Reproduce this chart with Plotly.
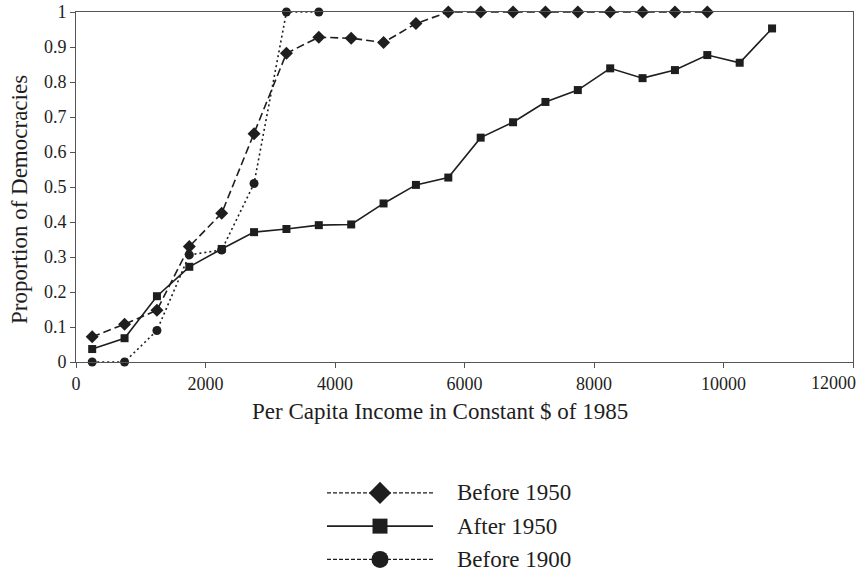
import plotly.graph_objects as go

# ---- data ----
income = [250, 750, 1250, 1750, 2250, 2750, 3250, 3750, 4250, 4750, 5250, 5750,
          6250, 6750, 7250, 7750, 8250, 8750, 9250, 9750, 10250, 10750]

before1950 = [0.072, 0.108, 0.148, 0.33, 0.425, 0.652, 0.882, 0.928, 0.925, 0.913,
              0.967, 1.0, 1.0, 1.0, 1.0, 1.0, 1.0, 1.0, 1.0, 1.0]
after1950 = [0.037, 0.068, 0.188, 0.272, 0.323, 0.371, 0.38, 0.391, 0.393, 0.453,
             0.506, 0.527, 0.641, 0.685, 0.743, 0.777, 0.839, 0.811, 0.834, 0.877,
             0.855, 0.953]
before1900 = [0.0, 0.0, 0.09, 0.306, 0.32, 0.51, 1.0, 1.0]

x_ticks = [0, 2000, 4000, 6000, 8000, 10000, 12000]
x_ticktext = ["0", "2000", "4000", "6000", "8000", "10000", "12000"]
y_ticks = [0, 0.1, 0.2, 0.3, 0.4, 0.5, 0.6, 0.7, 0.8, 0.9, 1]
y_ticktext = ["0", "0.1", "0.2", "0.3", "0.4", "0.5", "0.6", "0.7", "0.8", "0.9", "1"]

legend_labels = ["Before 1950", "After 1950", "Before 1900"]
x_title = "Per Capita Income in Constant $ of 1985"
y_title = "Proportion of Democracies"

FONT = "Liberation Serif"
INK = "#1e1e1e"

W, H = 862, 576
L, R, T, B = 76, 853, 12, 362

fig = go.Figure()

styles = [
    dict(dash="8px,4px", symbol="diamond", size=10, lsize=17),
    dict(dash="solid", symbol="square", size=8, lsize=15),
    dict(dash="2px,3px", symbol="circle", size=9, lsize=17),
]
series = [before1950, after1950, before1900]

for vals, st in zip(series, styles):
    fig.add_trace(go.Scatter(
        x=income[:len(vals)], y=vals, mode="lines+markers",
        line=dict(color=INK, width=1.6, dash=st["dash"]),
        marker=dict(symbol=st["symbol"], size=st["size"], color=INK,
                    line=dict(width=0)),
        cliponaxis=False, showlegend=False, xaxis="x", yaxis="y"))

# custom legend drawn in its own small axes
for i, (lab, st) in enumerate(zip(legend_labels, styles)):
    row = i + 1
    solid = st["dash"] == "solid"
    fig.add_trace(go.Scatter(
        x=[0, 1], y=[row, row], mode="lines",
        line=dict(color=INK, width=1.6 if solid else 1.2,
                  dash="solid" if solid else "4px,2px"),
        cliponaxis=False, showlegend=False, xaxis="x2", yaxis="y2",
        hoverinfo="skip"))
    fig.add_trace(go.Scatter(
        x=[0.5], y=[row], mode="markers",
        marker=dict(symbol=st["symbol"], size=st["lsize"], color=INK,
                    line=dict(width=0)),
        cliponaxis=False, showlegend=False, xaxis="x2", yaxis="y2",
        hoverinfo="skip"))
    fig.add_annotation(text=lab, x=455 / W, xref="paper", xanchor="left",
                       y=row, yref="y2", yanchor="middle", showarrow=False,
                       font=dict(family=FONT, size=23, color=INK))

# last x tick label is pulled inside the page edge, as in the original
tick_shown = x_ticktext[:-1] + [""]
fig.add_annotation(text=x_ticktext[-1], x=x_ticks[-1], xref="x", xanchor="right",
                   xshift=5, y=(H - 383) / H, yref="paper", yanchor="middle",
                   showarrow=False, font=dict(family=FONT, size=18, color=INK))

# axis titles
fig.add_annotation(text=x_title, x=440 / W, y=(H - 411) / H, xref="paper",
                   yref="paper", xanchor="center", yanchor="middle",
                   showarrow=False, font=dict(family=FONT, size=23, color=INK))
fig.add_annotation(text=y_title, x=19 / W, y=(H - 200) / H, xref="paper",
                   yref="paper", xanchor="center", yanchor="middle",
                   textangle=-90, showarrow=False,
                   font=dict(family=FONT, size=23, color=INK))

fig.update_layout(
    width=W, height=H,
    margin=dict(l=0, r=0, t=0, b=0),
    paper_bgcolor="white", plot_bgcolor="white",
    font=dict(family=FONT, color=INK),
    showlegend=False,
    xaxis=dict(
        domain=[L / W, R / W], range=[0, 12000],
        tickvals=x_ticks, ticktext=tick_shown, ticks="outside", ticklen=5,
        tickcolor="#555", ticklabeloverflow="allow",
        tickfont=dict(family=FONT, size=18, color=INK),
        showline=True, mirror=True, linecolor="#555", linewidth=1,
        showgrid=False, zeroline=False, automargin=False,
    ),
    yaxis=dict(
        domain=[(H - B) / H, (H - T) / H], range=[0, 1],
        tickvals=y_ticks, ticktext=y_ticktext, ticks="outside", ticklen=5,
        tickcolor="#555", ticklabeloverflow="allow",
        tickfont=dict(family=FONT, size=18, color=INK),
        showline=True, mirror=True, linecolor="#555", linewidth=1,
        showgrid=False, zeroline=False, automargin=False,
    ),
    xaxis2=dict(domain=[327 / W, 433 / W], range=[0, 1], visible=False,
                anchor="y2"),
    yaxis2=dict(domain=[0, (H - 476.25) / H], range=[3.5, 0.5], visible=False,
                anchor="x2"),
)

fig.write_html("out.html", config={"displayModeBar": False},
               post_script="document.body.style.margin='0';"
                           "document.body.style.overflow='hidden';")
